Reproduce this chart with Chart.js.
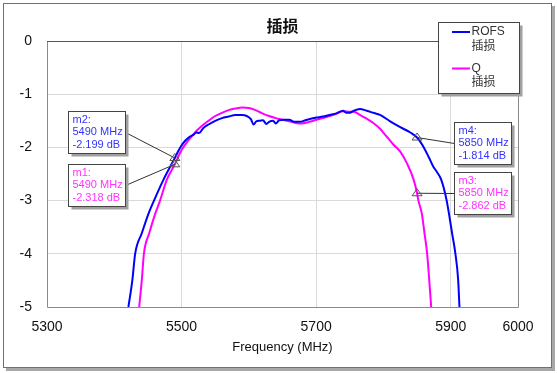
<!DOCTYPE html>
<html>
<head>
<meta charset="utf-8">
<script src="https://cdn.jsdelivr.net/npm/chart.js@4.4.1/dist/chart.umd.min.js"></script>
<style>
  html, body { margin: 0; padding: 0; background: #fff; }
  #wrap { width: 557px; height: 373px; }
</style>
</head>
<body>
<div id="wrap"><canvas id="chart" width="557" height="373"></canvas></div>
<script>
const chartTitle = '插损';
const freqTicks = [5300, 5500, 5700, 5900, 6000];
const dbTicks = [0, -1, -2, -3, -4, -5];
const seriesNames = [['ROFS', '插损'], ['Q', '插损']];
const seriesColors = ['#0000ff', '#ff00ff'];

// ROFS
const rofsFreq = [5421, 5427, 5431, 5441, 5451, 5459, 5473, 5490, 5498, 5505, 5512, 5518, 5522, 5526, 5532, 5540, 5550, 5560, 5570, 5580, 5590, 5597, 5603, 5607, 5611, 5616, 5621, 5626, 5630, 5636, 5640, 5645, 5652, 5660, 5668, 5676, 5684, 5692, 5700, 5710, 5720, 5730, 5740, 5745, 5750, 5756, 5765, 5775, 5785, 5795, 5810, 5825, 5840, 5850, 5860, 5868, 5874, 5880, 5886, 5894, 5902, 5907, 5911, 5913];
const rofsDb = [-5.0, -4.48, -4.0, -3.61, -3.24, -3.0, -2.61, -2.199, -2.0, -1.88, -1.8, -1.76, -1.72, -1.73, -1.64, -1.57, -1.5, -1.45, -1.42, -1.39, -1.39, -1.41, -1.47, -1.57, -1.51, -1.5, -1.49, -1.56, -1.52, -1.5, -1.55, -1.49, -1.48, -1.48, -1.52, -1.52, -1.49, -1.46, -1.44, -1.42, -1.39, -1.36, -1.31, -1.35, -1.35, -1.31, -1.28, -1.31, -1.35, -1.39, -1.51, -1.62, -1.72, -1.814, -2.0, -2.2, -2.36, -2.47, -2.61, -3.0, -3.61, -4.0, -4.48, -5.0];

// Q
const qFreq = [5437, 5441, 5444, 5452, 5461, 5468, 5478, 5490, 5500, 5510, 5520, 5530, 5540, 5550, 5560, 5570, 5580, 5590, 5600, 5610, 5620, 5630, 5640, 5650, 5660, 5670, 5678, 5690, 5700, 5710, 5720, 5730, 5740, 5750, 5756, 5765, 5775, 5785, 5795, 5805, 5815, 5825, 5835, 5845, 5850, 5852, 5857, 5861, 5865, 5868, 5871];
const qDb = [-5.0, -4.48, -4.0, -3.61, -3.24, -3.0, -2.61, -2.318, -2.05, -1.87, -1.72, -1.6, -1.5, -1.41, -1.35, -1.3, -1.27, -1.25, -1.26, -1.3, -1.36, -1.41, -1.45, -1.48, -1.51, -1.54, -1.55, -1.52, -1.48, -1.45, -1.41, -1.37, -1.32, -1.33, -1.33, -1.39, -1.46, -1.54, -1.65, -1.8, -1.95, -2.08, -2.3, -2.61, -2.862, -3.0, -3.24, -3.61, -4.0, -4.48, -5.0];

// markers
const markerNames = ['m1', 'm2', 'm3', 'm4'];
const markerFreq = [5490, 5490, 5850, 5850];
const markerDb = [-2.318, -2.199, -2.862, -1.814];
const markerSeries = [1, 0, 1, 0];

const textColors = ['#3333ff', '#ff33ff'];
// box top-left corners and which side the leader line leaves from
const markerBoxes = {
  m1: { x: 68.5, y: 164.5, side: 'right' },
  m2: { x: 68.5, y: 111.5, side: 'right' },
  m3: { x: 454.5, y: 172.5, side: 'left' },
  m4: { x: 454.5, y: 122.5, side: 'left' }
};
const BOX_W = 57, BOX_H = 42;
const FONT = '"Liberation Sans", Arial, "Noto Sans CJK SC", sans-serif';

const toPoints = (xs, ys) => xs.map((x, i) => ({ x: x, y: ys[i] }));

const decorPlugin = {
  id: 'decor',
  beforeDraw(chart) {
    const ctx = chart.ctx;
    ctx.save();
    ctx.fillStyle = '#ffffff';
    ctx.fillRect(0, 0, chart.width, chart.height);
    // outer frame with shadow
    ctx.fillStyle = '#a8a8a8';
    ctx.fillRect(6, 6, 549, 365);
    ctx.fillStyle = '#ffffff';
    ctx.fillRect(3, 3, 548, 364);
    ctx.strokeStyle = '#707070';
    ctx.lineWidth = 1;
    ctx.strokeRect(3.5, 3.5, 548, 364);
    ctx.restore();
  },
  afterDraw(chart) {
    const ctx = chart.ctx;
    const a = chart.chartArea;
    const xs = chart.scales.x, ys = chart.scales.y;
    ctx.save();

    // plot border
    ctx.lineWidth = 1;
    ctx.strokeStyle = '#8a8a8a';
    ctx.beginPath();
    ctx.moveTo(Math.round(a.left) + 0.5, Math.round(a.top));
    ctx.lineTo(Math.round(a.left) + 0.5, Math.round(a.bottom) + 0.5);
    ctx.lineTo(Math.round(a.right) + 0.5, Math.round(a.bottom) + 0.5);
    ctx.lineTo(Math.round(a.right) + 0.5, Math.round(a.top));
    ctx.stroke();
    ctx.strokeStyle = '#555555';
    ctx.beginPath();
    ctx.moveTo(Math.round(a.left), Math.round(a.top) + 0.5);
    ctx.lineTo(Math.round(a.right) + 1, Math.round(a.top) + 0.5);
    ctx.stroke();

    // title
    ctx.fillStyle = '#111';
    ctx.font = 'bold 16px "Noto Sans CJK SC", sans-serif';
    ctx.textAlign = 'center';
    ctx.textBaseline = 'middle';
    ctx.fillText(chartTitle, (a.left + a.right) / 2, 26);

    // legend
    const lx = 438.5, ly = 22.5, lw = 81, lh = 71;
    ctx.fillStyle = '#a0a0a0';
    ctx.fillRect(lx + 3, ly + 3, lw, lh);
    ctx.fillStyle = '#fff';
    ctx.fillRect(lx, ly, lw, lh);
    ctx.strokeStyle = '#444';
    ctx.strokeRect(lx, ly, lw, lh);
    ctx.textAlign = 'left';
    ctx.font = '12px ' + FONT;
    chart.data.datasets.forEach((ds, i) => {
      const y0 = 32 + i * 36.5;
      ctx.strokeStyle = ds.borderColor;
      ctx.lineWidth = 2;
      ctx.beginPath();
      ctx.moveTo(452, y0);
      ctx.lineTo(470, y0);
      ctx.stroke();
      ctx.fillStyle = '#333';
      ds.label.forEach((t, k) => ctx.fillText(t, 471.5, y0 + k * 14.5));
    });

    // markers
    markerNames.forEach((name, i) => {
      const px = xs.getPixelForValue(markerFreq[i]);
      const py = ys.getPixelForValue(markerDb[i]);
      const b = markerBoxes[name];
      const ex = b.side === 'right' ? b.x + BOX_W : b.x;
      const ey = b.y + BOX_H / 2;
      ctx.lineWidth = 1;
      ctx.strokeStyle = '#333';
      ctx.beginPath();
      ctx.moveTo(ex, ey);
      ctx.lineTo(px, py);
      ctx.stroke();
      // triangle
      ctx.strokeStyle = '#555';
      ctx.beginPath();
      ctx.moveTo(px, py - 4.5);
      ctx.lineTo(px + 5, py + 2.5);
      ctx.lineTo(px - 5, py + 2.5);
      ctx.closePath();
      ctx.stroke();
      // box
      ctx.fillStyle = '#a0a0a0';
      ctx.fillRect(b.x + 3, b.y + 3, BOX_W, BOX_H);
      ctx.fillStyle = '#fff';
      ctx.fillRect(b.x, b.y, BOX_W, BOX_H);
      ctx.strokeStyle = '#444';
      ctx.strokeRect(b.x, b.y, BOX_W, BOX_H);
      ctx.fillStyle = textColors[markerSeries[i]];
      ctx.font = '11px ' + FONT;
      const lines = [name + ':', markerFreq[i] + ' MHz', markerDb[i].toFixed(3) + ' dB'];
      lines.forEach((t, k) => ctx.fillText(t, b.x + 4, b.y + 8.5 + k * 12.3));
    });
    ctx.restore();
  }
};

new Chart(document.getElementById('chart'), {
  type: 'scatter',
  data: {
    datasets: [
      {
        label: seriesNames[0],
        data: toPoints(rofsFreq, rofsDb),
        borderColor: seriesColors[0],
        backgroundColor: seriesColors[0],
        showLine: true,
        borderWidth: 2,
        pointRadius: 0,
        cubicInterpolationMode: 'monotone'
      },
      {
        label: seriesNames[1],
        data: toPoints(qFreq, qDb),
        borderColor: seriesColors[1],
        backgroundColor: seriesColors[1],
        showLine: true,
        borderWidth: 2,
        pointRadius: 0,
        cubicInterpolationMode: 'monotone'
      }
    ]
  },
  options: {
    responsive: false,
    animation: false,
    layout: { padding: { left: 0, top: 41, right: 39, bottom: 0 } },
    plugins: {
      legend: { display: false },
      title: { display: false },
      tooltip: { enabled: false }
    },
    scales: {
      x: {
        type: 'linear',
        min: 5300,
        max: 6000,
        afterBuildTicks: s => { s.ticks = freqTicks.map(v => ({ value: v })); },
        afterFit: s => { s.height = 66; },
        ticks: {
          autoSkip: false,
          maxRotation: 0,
          padding: 12,
          color: '#111',
          font: { family: FONT, size: 14 },
          callback: v => String(v)
        },
        grid: {
          drawTicks: false,
          color: c => (c.tick && (c.tick.value === 5300 || c.tick.value === 6000)) ? 'rgba(0,0,0,0)' : '#dadada'
        },
        border: { display: false },
        title: {
          display: true,
          text: 'Frequency (MHz)',
          color: '#111',
          font: { family: FONT, size: 13 },
          padding: { top: 0, bottom: 18 }
        }
      },
      y: {
        min: -5,
        max: 0,
        afterBuildTicks: s => { s.ticks = dbTicks.map(v => ({ value: v })); },
        afterFit: s => { s.width = 47; },
        ticks: {
          padding: 15,
          color: '#111',
          font: { family: FONT, size: 14 },
          callback: v => String(v)
        },
        grid: {
          drawTicks: false,
          color: c => (c.tick && (c.tick.value === 0 || c.tick.value === -5)) ? 'rgba(0,0,0,0)' : '#dadada'
        },
        border: { display: false }
      }
    }
  },
  plugins: [decorPlugin]
});
</script>
</body>
</html>
